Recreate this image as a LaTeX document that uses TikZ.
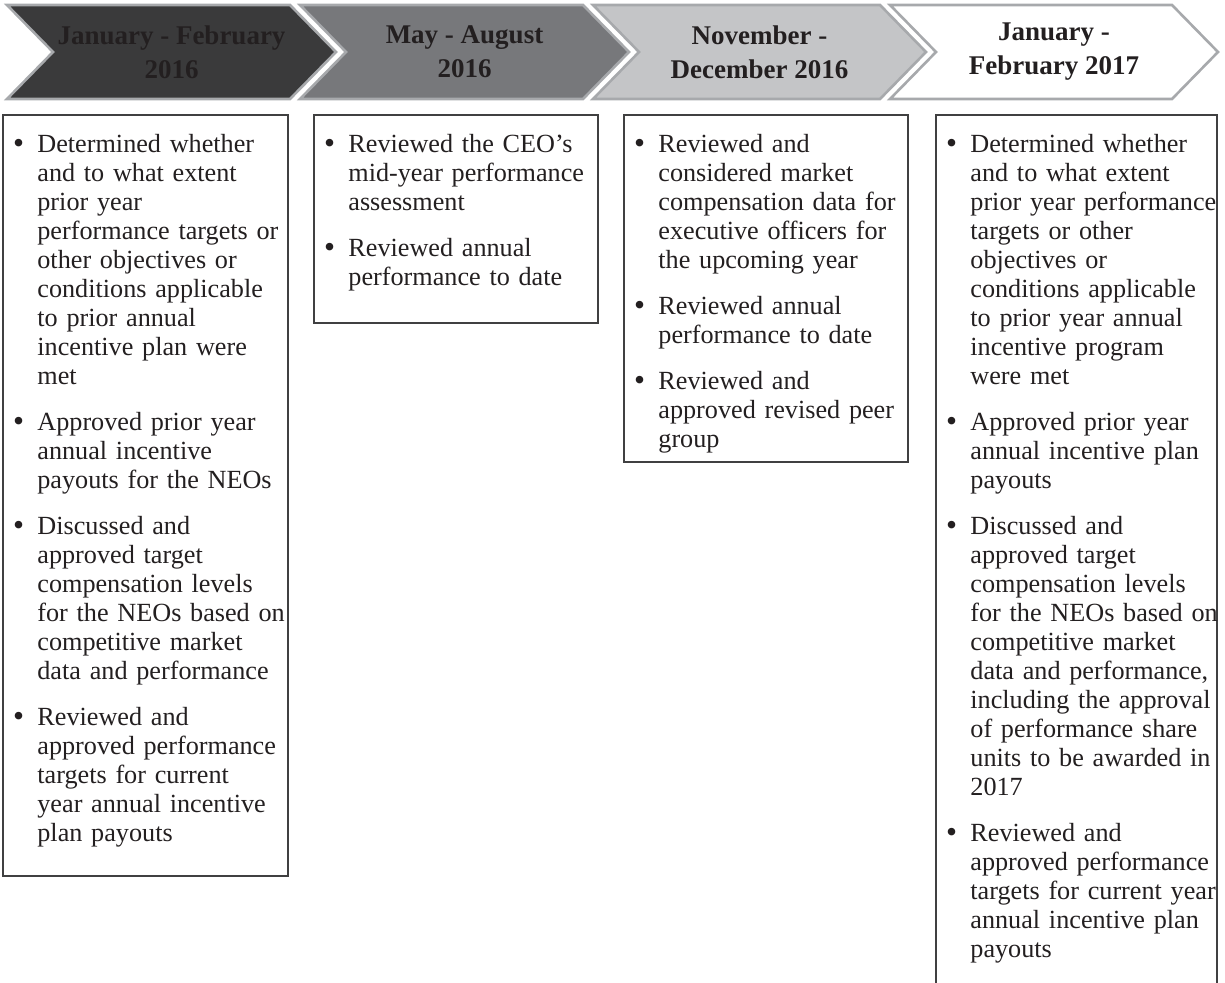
\documentclass[tikz,border=0pt]{standalone}
\usepackage{fontspec}
\usepackage{graphicx}
\setmainfont{Liberation Serif}
\definecolor{txt}{HTML}{231F20}
\definecolor{chA}{HTML}{3A3A3B}
\definecolor{chB}{HTML}{77787B}
\definecolor{chC}{HTML}{C4C5C7}
\definecolor{chline}{HTML}{A7A9AC}
\definecolor{boxline}{HTML}{404041}
\newcommand{\bitem}[1]{\par{\let\\\newline\noindent\hangindent=13pt\hangafter=1\makebox[13pt][l]{\hspace{0.8pt}\raisebox{-0.9pt}{\scalebox{1.2}{\textbullet}}}\strut#1\par}}
\newcommand{\bgap}{\vspace{8.5pt}}
\begin{document}
\begin{tikzpicture}[x=0.5pt,y=-0.5pt,
  chev/.style={draw=chline,line width=1.3pt,line join=miter},
  head/.style={font=\fontsize{13.5}{17}\selectfont\bfseries,text=txt,align=center,inner sep=0pt},
  body/.style={font=\fontsize{13.1}{14.5}\selectfont\raggedright,text=txt,anchor=north west,inner sep=0pt,text width=150pt},
  frame/.style={draw=boxline,line width=0.75pt}]
\useasboundingbox (0,0) rectangle (1225,983);
% chevrons
\path[chev,fill=chA] (7,5) -- (290,5) -- (336,52) -- (290,99) -- (7,99) -- (53,52) -- cycle;
\path[chev,fill=chB] (300,5) -- (583,5) -- (629,52) -- (583,99) -- (300,99) -- (346,52) -- cycle;
\path[chev,fill=chC] (593,5) -- (880,5) -- (926,52) -- (880,99) -- (593,99) -- (639,52) -- cycle;
\path[chev,fill=white] (890,5) -- (1172,5) -- (1218,52) -- (1172,99) -- (890,99) -- (936,52) -- cycle;
\node[head] (h1) at (171.5,52) {January - February\\2016};
\node[head] (h2) at (464.5,52) {May - August\\2016};
\node[head] (h3) at (759.5,52) {November -\\December 2016};
\node[head] (h4) at (1054,52) {January -\\February 2017};
% boxes
\draw[frame] (3,115) rectangle (288,876);
\draw[frame] (314,115) rectangle (598,323);
\draw[frame] (624,115) rectangle (908,462);
\draw[frame] (936,983) -- (936,115) -- (1217,115) -- (1217,983);
\node[body] (b1) at (11,122.7) {%
\bitem{Determined whether\\and to what extent\\prior year\\performance targets or\\other objectives or\\conditions applicable\\to prior annual\\incentive plan were\\met}\bgap
\bitem{Approved prior year\\annual incentive\\payouts for the NEOs}\bgap
\bitem{Discussed and\\approved target\\compensation levels\\for the NEOs based on\\competitive market\\data and performance}\bgap
\bitem{Reviewed and\\approved performance\\targets for current\\year annual incentive\\plan payouts}};
\node[body] (b2) at (322,122.7) {%
\bitem{Reviewed the CEO’s\\mid-year performance\\assessment}\bgap
\bitem{Reviewed annual\\performance to date}};
\node[body] (b3) at (632,122.7) {%
\bitem{Reviewed and\\considered market\\compensation data for\\executive officers for\\the upcoming year}\bgap
\bitem{Reviewed annual\\performance to date}\bgap
\bitem{Reviewed and\\approved revised peer\\group}};
\node[body] (b4) at (944,122.7) {%
\bitem{Determined whether\\and to what extent\\prior year performance\\targets or other\\objectives or\\conditions applicable\\to prior year annual\\incentive program\\were met}\bgap
\bitem{Approved prior year\\annual incentive plan\\payouts}\bgap
\bitem{Discussed and\\approved target\\compensation levels\\for the NEOs based on\\competitive market\\data and performance,\\including the approval\\of performance share\\units to be awarded in\\2017}\bgap
\bitem{Reviewed and\\approved performance\\targets for current year\\annual incentive plan\\payouts}};
\end{tikzpicture}
\end{document}
